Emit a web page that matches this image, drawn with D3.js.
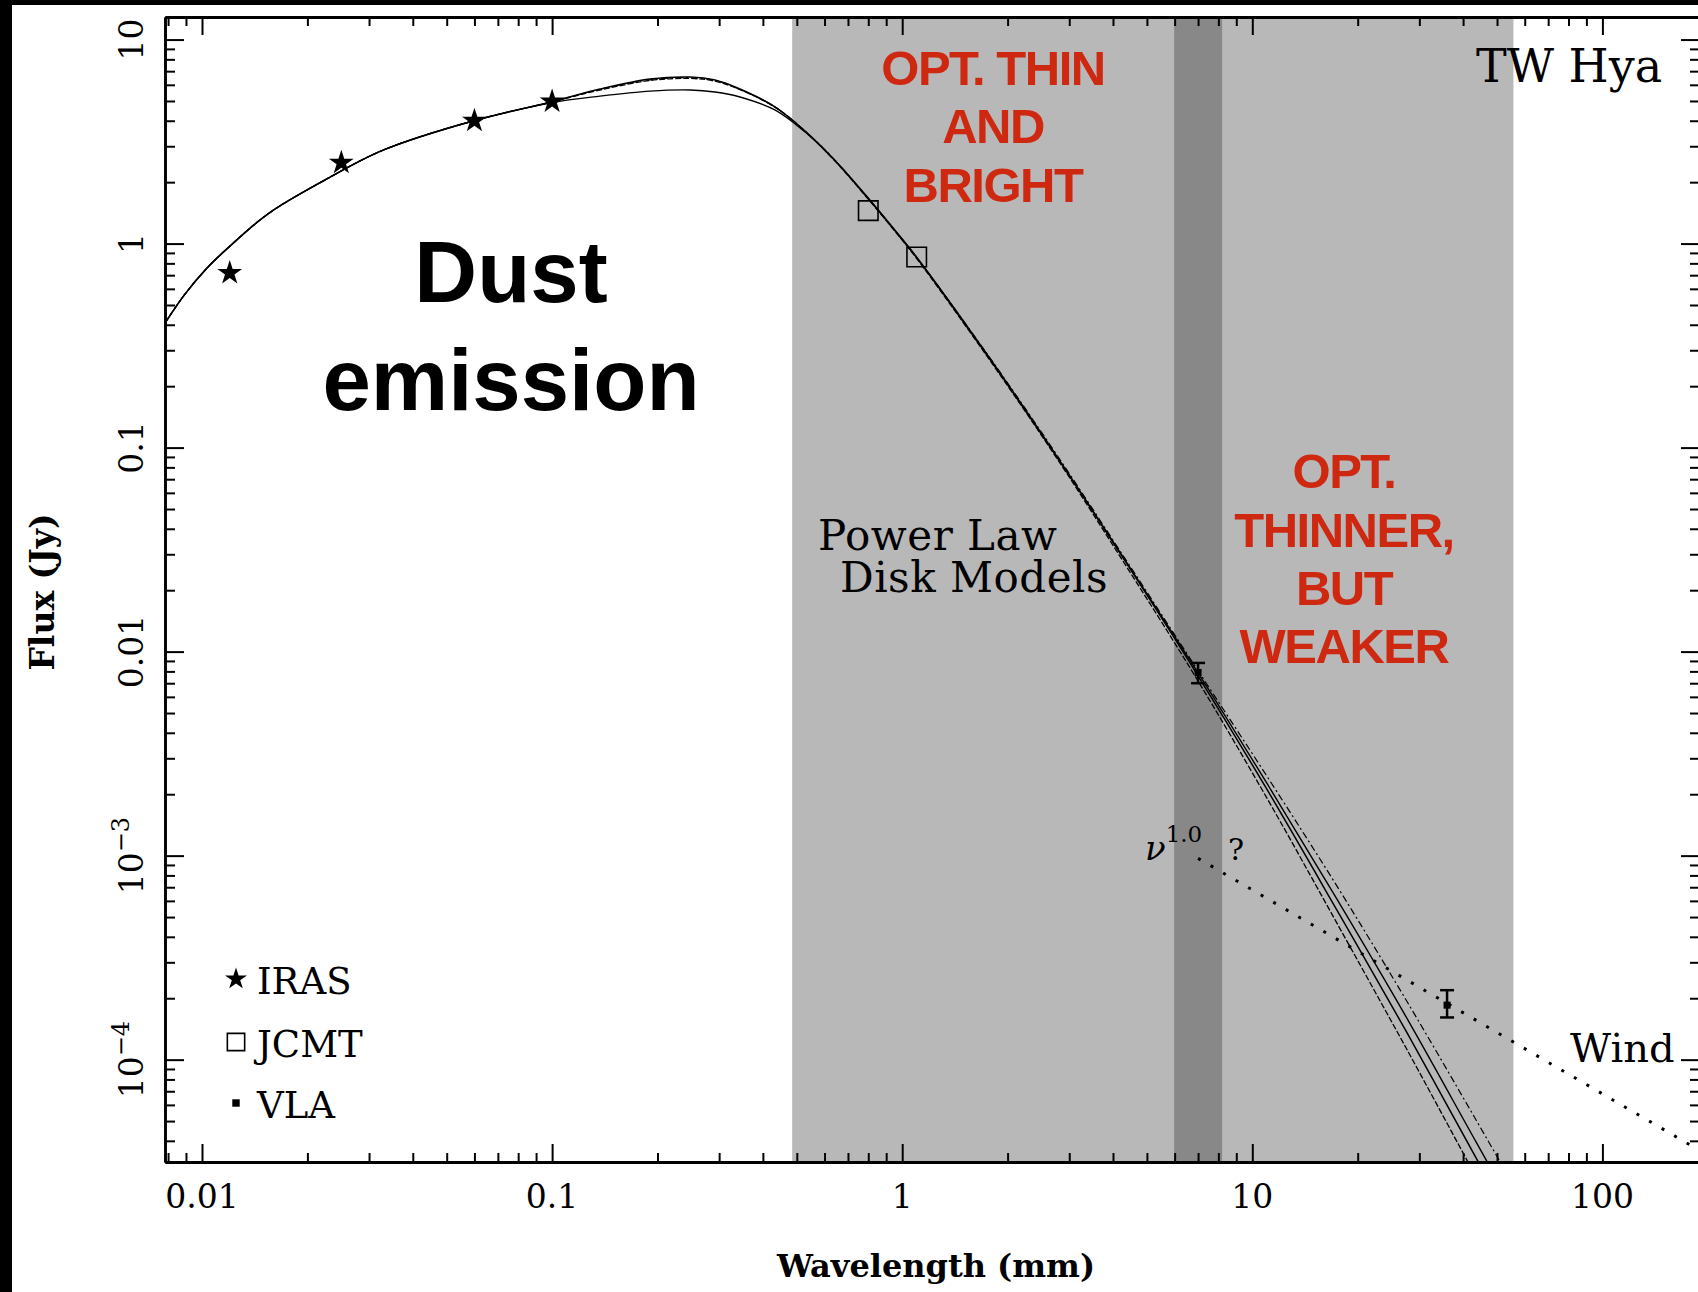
<!DOCTYPE html>
<html>
<head>
<meta charset="utf-8">
<script src="https://cdn.jsdelivr.net/npm/d3@7"></script>
<style>
  html, body { margin: 0; padding: 0; background: #fff; }
  svg { display: block; }
</style>
</head>
<body>
<script>
// ---------------- DATA ----------------
const xDomain = [0.00784, 190];          // wavelength (mm)
const yDomain = [3.15e-5, 12.9];         // flux (Jy)

const xMajor = [0.01, 0.1, 1, 10, 100];
const xTickLabels = ["0.01", "0.1", "1", "10", "100"];
const yMajor = [10, 1, 0.1, 0.01, 1e-3, 1e-4];
const yTickLabels = [["10"], ["1"], ["0.1"], ["0.01"], ["10", "\u22123"], ["10", "\u22124"]];

const bandLight = [0.485, 55.7];
const bandDark = [5.98, 8.2];

// model SEDs (power-law disk models), common wavelength grid
const modelLambda = [0.00784, 0.00894, 0.01033, 0.01202, 0.01545, 0.02246, 0.0329, 0.0594, 0.0994, 0.137, 0.1905,
  0.248, 0.292, 0.344, 0.434, 0.528, 0.644, 0.784, 0.955, 1.096, 1.738, 2.754, 4.365, 6.92, 10.96,
  17.38, 27.5, 43.6, 60];
const modelA = [0.408, 0.565, 0.758, 0.972, 1.40, 2.05, 2.87, 3.99, 4.94, 5.72, 6.40,
  6.55, 6.33, 5.72, 4.67, 3.56, 2.54, 1.73, 1.152, 0.859, 0.287, 0.0908, 0.0272, 0.00785, 0.00214,
  5.47e-4, 1.38e-4, 3.29e-5, 1.23e-5];
const modelB = [0.408, 0.565, 0.758, 0.972, 1.40, 2.05, 2.87, 3.99, 4.94, 5.66, 6.30,
  6.45, 6.25, 5.68, 4.65, 3.55, 2.53, 1.72, 1.145, 0.852, 0.284, 0.0895, 0.0262, 0.00741, 0.00194,
  4.72e-4, 1.14e-4, 2.65e-5, 9.5e-6];
const modelC = [0.408, 0.565, 0.758, 0.972, 1.40, 2.05, 2.87, 3.99, 4.90, 5.28, 5.59,
  5.66, 5.53, 5.23, 4.51, 3.52, 2.55, 1.74, 1.16, 0.865, 0.290, 0.0915, 0.0275, 0.00812, 0.00229,
  6.19e-4, 1.62e-4, 3.94e-5, 1.48e-5];
const modelD = [0.408, 0.565, 0.758, 0.972, 1.40, 2.05, 2.87, 3.99, 4.94, 5.70, 6.35,
  6.50, 6.30, 5.70, 4.66, 3.56, 2.55, 1.73, 1.155, 0.862, 0.292, 0.093, 0.028, 0.00831, 0.00248,
  7.17e-4, 1.96e-4, 5.05e-5, 1.94e-5];

// observations
const irasLambda = [0.012, 0.025, 0.06, 0.1];
const irasFlux = [0.717, 2.49, 4.0, 4.97];
const jcmtLambda = [0.8, 1.1];
const jcmtFlux = [1.45, 0.86];
const vlaLambda = [7, 36];
const vlaFlux = [0.0079, 1.85e-4];
const vlaLow = [0.0070, 1.61e-4];
const vlaHigh = [0.0088, 2.19e-4];

// wind (free-free, nu^1.0) extrapolation
const windLambda = [7, 250];
const windFlux = [9.7e-4, 2.72e-5];

// ---------------- DRAW ----------------
const W = 1698, H = 1292;
const L = 165, R = 1700, T = 17, B = 1162;
const serif = "'DejaVu Serif', serif";
const sans = "'Liberation Sans', Arial, sans-serif";
const red = "#cf2810";

const svg = d3.select("body").append("svg").attr("width", W).attr("height", H);
svg.append("rect").attr("width", W).attr("height", H).attr("fill", "#fff");

const x = d3.scaleLog().domain(xDomain).range([L, R]);
const y = d3.scaleLog().domain(yDomain).range([B, T]);

svg.append("defs").append("clipPath").attr("id", "clip")
  .append("rect").attr("x", L).attr("y", T).attr("width", R - L).attr("height", B - T);

// bands
svg.append("rect").attr("x", x(bandLight[0])).attr("y", T)
  .attr("width", x(bandLight[1]) - x(bandLight[0])).attr("height", B - T).attr("fill", "#b8b8b8");
svg.append("rect").attr("x", x(bandDark[0])).attr("y", T)
  .attr("width", x(bandDark[1]) - x(bandDark[0])).attr("height", B - T).attr("fill", "#888888");

const plot = svg.append("g").attr("clip-path", "url(#clip)");

// models
const line = d3.line().x(d => x(d[0])).y(d => y(d[1])).curve(d3.curveCatmullRom.alpha(0.5));
const models = [
  { v: modelC, dash: null, w: 1.4 },
  { v: modelD, dash: "7,3,2,3", w: 1.2 },
  { v: modelB, dash: "6,2", w: 1.3 },
  { v: modelA, dash: null, w: 1.5 }
];
models.forEach(m => {
  plot.append("path")
    .attr("d", line(modelLambda.map((l, i) => [l, m.v[i]])))
    .attr("fill", "none").attr("stroke", "#000").attr("stroke-width", m.w)
    .attr("stroke-dasharray", m.dash);
});

// wind dotted
plot.append("path")
  .attr("d", d3.line().x(d => x(d[0])).y(d => y(d[1]))(windLambda.map((l, i) => [l, windFlux[i]])))
  .attr("fill", "none").attr("stroke", "#000").attr("stroke-width", 3)
  .attr("stroke-dasharray", "3,11.5");

// IRAS stars
const star = d3.symbol().type(d3.symbolStar).size(190);
irasLambda.forEach((l, i) => {
  plot.append("path").attr("d", star())
    .attr("transform", `translate(${x(l)},${y(irasFlux[i])})`).attr("fill", "#000");
});
// JCMT squares
const sq = d3.symbol().type(d3.symbolSquare).size(380);
jcmtLambda.forEach((l, i) => {
  plot.append("path").attr("d", sq())
    .attr("transform", `translate(${x(l)},${y(jcmtFlux[i])})`)
    .attr("fill", "none").attr("stroke", "#000").attr("stroke-width", 1.6);
});
// VLA with error bars
const sqs = d3.symbol().type(d3.symbolSquare).size(50);
vlaLambda.forEach((l, i) => {
  const cx = x(l);
  const g = plot.append("g").attr("stroke", "#000").attr("stroke-width", 2.5);
  g.append("line").attr("x1", cx).attr("x2", cx).attr("y1", y(vlaLow[i])).attr("y2", y(vlaHigh[i]));
  [vlaLow[i], vlaHigh[i]].forEach(v => {
    g.append("line").attr("x1", cx - 7).attr("x2", cx + 7).attr("y1", y(v)).attr("y2", y(v));
  });
  plot.append("path").attr("d", sqs()).attr("transform", `translate(${cx},${y(vlaFlux[i])})`).attr("fill", "#000");
});

// axes
function styleAxis(g, w) {
  g.selectAll("line").attr("stroke", "#000").attr("stroke-width", 2);
  g.select(".domain").attr("stroke", "#000").attr("stroke-width", w);
}
const isMajor = v => Math.abs(Math.log10(v) - Math.round(Math.log10(v))) < 1e-6;
const xMinor = x.ticks().filter(v => !isMajor(v));
const yMinor = y.ticks().filter(v => !isMajor(v));

[[d3.axisBottom, B, 3], [d3.axisTop, T, 3]].forEach(([ax, pos, w]) => {
  const g1 = svg.append("g").attr("transform", `translate(0,${pos})`)
    .call(ax(x).tickValues(xMajor).tickSize(-18).tickSizeOuter(0).tickFormat(""));
  styleAxis(g1, w);
  const g2 = svg.append("g").attr("transform", `translate(0,${pos})`)
    .call(ax(x).tickValues(xMinor).tickSize(-9).tickSizeOuter(0).tickFormat(""));
  styleAxis(g2, w);
});
[[d3.axisLeft, L, 2.6], [d3.axisRight, R, 2.6]].forEach(([ax, pos, w]) => {
  const g1 = svg.append("g").attr("transform", `translate(${pos},0)`)
    .call(ax(y).tickValues(yMajor).tickSize(-19).tickSizeOuter(0).tickFormat(""));
  styleAxis(g1, w);
  const g2 = svg.append("g").attr("transform", `translate(${pos},0)`)
    .call(ax(y).tickValues(yMinor).tickSize(-10).tickSizeOuter(0).tickFormat(""));
  styleAxis(g2, w);
});

// tick labels
xMajor.forEach((v, i) => {
  svg.append("text").attr("x", x(v)).attr("y", 1208).attr("text-anchor", "middle")
    .attr("font-family", serif).attr("font-size", 33).attr("fill", "#000").text(xTickLabels[i]);
});
yMajor.forEach((v, i) => {
  const t = svg.append("text").attr("transform", `translate(143,${y(v)}) rotate(-90)`)
    .attr("text-anchor", "middle").attr("font-family", serif).attr("font-size", 33).attr("fill", "#000");
  const parts = yTickLabels[i];
  t.append("tspan").text(parts[0]);
  if (parts.length > 1) t.append("tspan").attr("dy", -14).attr("font-size", 24).text(parts[1]);
});

// axis titles
svg.append("text").attr("x", 936).attr("y", 1277).attr("text-anchor", "middle")
  .attr("font-family", serif).attr("font-weight", "bold").attr("font-size", 32).attr("fill", "#000")
  .text("Wavelength (mm)");
svg.append("text").attr("transform", "translate(54,592) rotate(-90)").attr("text-anchor", "middle")
  .attr("font-family", serif).attr("font-weight", "bold").attr("font-size", 33).attr("fill", "#000")
  .text("Flux (Jy)");

// annotations
svg.append("text").attr("x", 1476).attr("y", 82).attr("font-family", serif).attr("font-size", 46)
  .attr("fill", "#000").text("TW Hya");
svg.append("text").attr("x", 818).attr("y", 550).attr("font-family", serif).attr("font-size", 42)
  .attr("letter-spacing", 0.5).attr("fill", "#000").text("Power Law");
svg.append("text").attr("x", 840).attr("y", 592).attr("font-family", serif).attr("font-size", 42)
  .attr("letter-spacing", 0.5).attr("fill", "#000").text("Disk Models");
svg.append("text").attr("x", 1570).attr("y", 1062).attr("font-family", serif).attr("font-size", 40)
  .attr("fill", "#000").text("Wind");
const nu = svg.append("text").attr("x", 1145).attr("y", 860).attr("font-family", serif)
  .attr("font-style", "italic").attr("font-size", 34).attr("fill", "#000");
nu.append("tspan").text("\u03bd");
nu.append("tspan").attr("dy", -18).attr("font-size", 23).attr("font-style", "normal").text("1.0");
svg.append("text").attr("x", 1228).attr("y", 860).attr("font-family", serif).attr("font-size", 30)
  .attr("fill", "#000").text("?");

// Dust emission
[["Dust", 302], ["emission", 410]].forEach(([s, yy]) => {
  svg.append("text").attr("x", 511).attr("y", yy).attr("text-anchor", "middle")
    .attr("font-family", sans).attr("font-weight", "bold").attr("font-size", 87).attr("fill", "#000").text(s);
});
// red labels
[["OPT. THIN", 85], ["AND", 143], ["BRIGHT", 202]].forEach(([s, yy]) => {
  svg.append("text").attr("x", 993).attr("y", yy).attr("text-anchor", "middle")
    .attr("font-family", sans).attr("font-weight", "bold").attr("font-size", 49)
    .attr("letter-spacing", -1.5).attr("fill", red).text(s);
});
[["OPT.", 488], ["THINNER,", 547], ["BUT", 605], ["WEAKER", 663]].forEach(([s, yy]) => {
  svg.append("text").attr("x", 1344).attr("y", yy).attr("text-anchor", "middle")
    .attr("font-family", sans).attr("font-weight", "bold").attr("font-size", 49)
    .attr("letter-spacing", -1.5).attr("fill", red).text(s);
});

// legend
const legendItems = ["IRAS", "JCMT", "VLA"];
const legendY = [979, 1042, 1103];
svg.append("path").attr("d", d3.symbol().type(d3.symbolStar).size(150)())
  .attr("transform", `translate(236,${legendY[0]})`).attr("fill", "#000");
svg.append("path").attr("d", d3.symbol().type(d3.symbolSquare).size(300)())
  .attr("transform", `translate(236,${legendY[1]})`).attr("fill", "none").attr("stroke", "#000").attr("stroke-width", 1.6);
svg.append("path").attr("d", d3.symbol().type(d3.symbolSquare).size(55)())
  .attr("transform", `translate(236,${legendY[2]})`).attr("fill", "#000");
legendItems.forEach((s, i) => {
  svg.append("text").attr("x", 257).attr("y", legendY[i] + 15).attr("font-family", serif)
    .attr("font-size", 37).attr("fill", "#000").text(s);
});

// black frame strips
svg.append("rect").attr("x", 0).attr("y", 0).attr("width", 12).attr("height", H).attr("fill", "#000");
svg.append("rect").attr("x", 0).attr("y", 0).attr("width", W).attr("height", 5).attr("fill", "#000");
</script>
</body>
</html>
